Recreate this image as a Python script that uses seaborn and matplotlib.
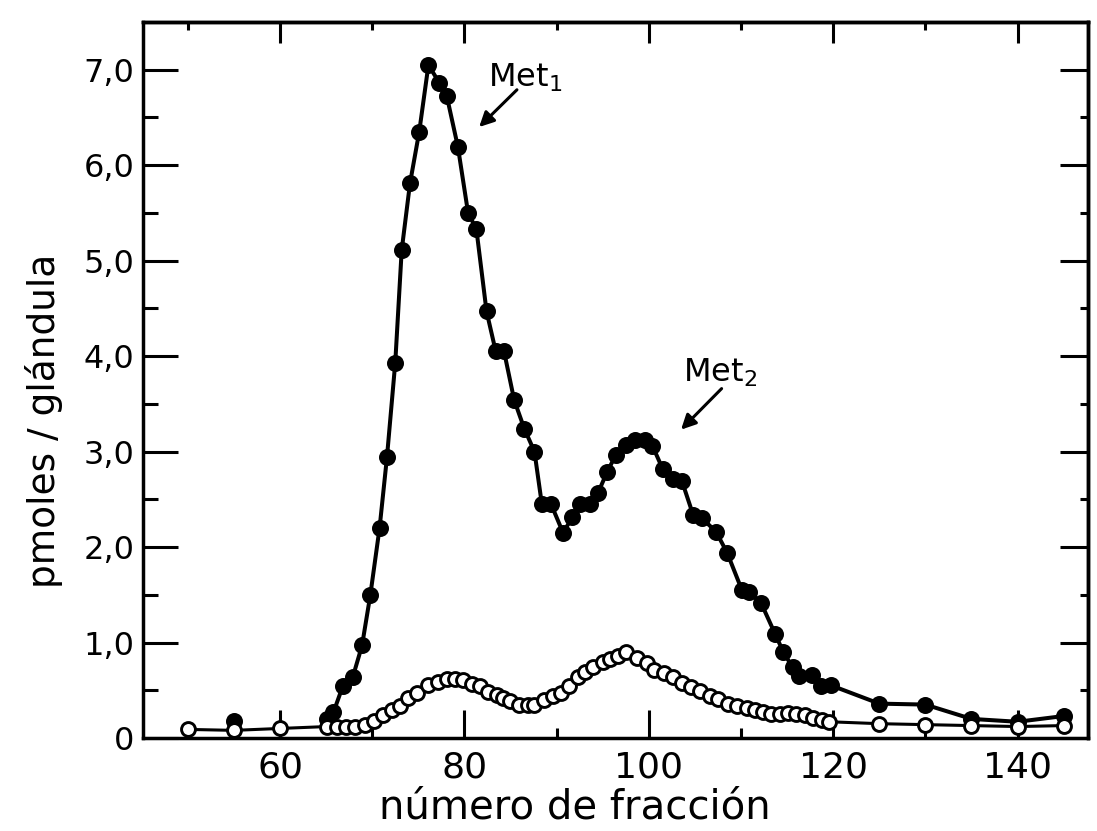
import numpy as np
import pandas as pd
import matplotlib
matplotlib.use("Agg")
import matplotlib.pyplot as plt
import seaborn as sns

# Fraction numbers and methionine content (pmoles / gland), filled series
met_x = [55, 65.1, 65.8, 66.8, 67.9, 68.9, 69.8, 70.8, 71.6, 72.5, 73.2, 74.1,
         75.1, 76.1, 77.3, 78.1, 79.3, 80.4, 81.3, 82.4, 83.4, 84.3, 85.4, 86.5,
         87.6, 88.4, 89.4, 90.7, 91.7, 92.5, 93.6, 94.5, 95.5, 96.4, 97.5, 98.5,
         99.6, 100.4, 101.5, 102.6, 103.6, 104.8, 105.8, 107.3, 108.5, 110.1,
         110.9, 112.2, 113.7, 114.6, 115.6, 116.3, 117.7, 118.7, 119.8,
         125, 130, 135, 140, 145]
met_y = [0.18, 0.20, 0.27, 0.54, 0.64, 0.97, 1.50, 2.20, 2.94, 3.93, 5.11, 5.81,
         6.35, 7.05, 6.86, 6.72, 6.19, 5.50, 5.33, 4.47, 4.05, 4.05, 3.54, 3.24,
         3.00, 2.45, 2.45, 2.15, 2.31, 2.45, 2.45, 2.57, 2.79, 2.96, 3.07, 3.12,
         3.12, 3.06, 2.82, 2.71, 2.69, 2.34, 2.30, 2.16, 1.94, 1.55,
         1.53, 1.41, 1.09, 0.90, 0.74, 0.65, 0.66, 0.54, 0.55,
         0.36, 0.35, 0.20, 0.17, 0.23]

# Open series
open_x = [50, 55, 60, 65.1, 66.2, 67.2, 68.1, 69.2, 70.2, 71.2, 72.1, 73.0, 73.9,
          74.9, 76.0, 77.1, 78.1, 79.0, 79.8, 80.8, 81.7, 82.6, 83.5, 84.2, 85.0,
          85.9, 86.9, 87.5, 88.6, 89.6, 90.5, 91.4, 92.3, 93.1, 94.0, 95.0, 95.8,
          96.7, 97.5, 98.7, 99.8, 100.6, 101.7, 102.6, 103.6, 104.6, 105.6, 106.6,
          107.5, 108.6, 109.6, 110.7, 111.5, 112.4, 113.3, 114.2, 115.1, 116.0,
          116.9, 117.8, 118.8, 119.6, 125, 130, 135, 140, 145]
open_y = [0.09, 0.08, 0.10, 0.12, 0.11, 0.12, 0.12, 0.14, 0.18, 0.24, 0.29, 0.34,
          0.42, 0.47, 0.55, 0.59, 0.62, 0.62, 0.61, 0.57, 0.54, 0.48, 0.45, 0.42,
          0.39, 0.35, 0.35, 0.35, 0.40, 0.44, 0.47, 0.54, 0.64, 0.69, 0.74, 0.80,
          0.83, 0.86, 0.90, 0.84, 0.79, 0.71, 0.68, 0.64, 0.58, 0.53, 0.49, 0.44,
          0.41, 0.36, 0.33, 0.31, 0.29, 0.27, 0.25, 0.25, 0.26, 0.25, 0.24, 0.21,
          0.19, 0.17, 0.15, 0.14, 0.13, 0.12, 0.13]

x_ticks = [60, 80, 100, 120, 140]
x_minor = [50, 70, 90, 110, 130]
y_ticks = [0, 1, 2, 3, 4, 5, 6, 7]
y_ticklabels = ["0", "1,0", "2,0", "3,0", "4,0", "5,0", "6,0", "7,0"]
y_minor = [0.5, 1.5, 2.5, 3.5, 4.5, 5.5, 6.5]

sns.set_theme(style="ticks")
plt.rcParams["font.family"] = ["DejaVu Sans"]
plt.rcParams.update({
    "axes.linewidth": 2.5,
    "text.color": "black",
    "axes.labelcolor": "black",
    "xtick.color": "black",
    "ytick.color": "black",
    "axes.edgecolor": "black",
})

met = pd.DataFrame({"fraccion": met_x, "pmoles": met_y})
opn = pd.DataFrame({"fraccion": open_x, "pmoles": open_y})

fig = plt.figure(figsize=(10.97, 8.31), dpi=100)
fig.patch.set_facecolor("white")
ax = fig.add_axes([143 / 1097, 1 - 738 / 831, (1088 - 143) / 1097, (738 - 22) / 831])
ax.set_facecolor("white")

# filled series: curve from fraction 65 on, markers everywhere
sns.lineplot(data=met.iloc[1:], x="fraccion", y="pmoles", ax=ax, color="black",
             linewidth=2.9, sort=False, estimator=None, zorder=2)
sns.scatterplot(data=met, x="fraccion", y="pmoles", ax=ax, color="black",
                s=150, edgecolor="black", linewidth=0, zorder=3)

# open series drawn on top
sns.lineplot(data=opn, x="fraccion", y="pmoles", ax=ax, color="black",
             linewidth=2.2, sort=False, estimator=None, zorder=4)
sns.scatterplot(data=opn, x="fraccion", y="pmoles", ax=ax, facecolor="white",
                edgecolor="black", s=100, linewidth=2.1, zorder=5)

ax.set_xlim(45.14, 147.64)
ax.set_ylim(0, 7.5)

ax.set_xticks(x_ticks)
ax.set_xticks(x_minor, minor=True)
ax.set_yticks(y_ticks)
ax.set_yticklabels(y_ticklabels)
ax.set_yticks(y_minor, minor=True)

ax.tick_params(axis="x", which="major", direction="in", length=20, width=2.2,
               labelsize=26, pad=9)
ax.tick_params(axis="x", which="minor", direction="in", length=7, width=2.2)
ax.tick_params(axis="y", which="major", direction="in", length=25, width=2.2,
               labelsize=23, pad=6)
ax.tick_params(axis="y", which="minor", direction="in", length=11, width=2.2)

# opposite sides carry their own shorter ticks
top = ax.secondary_xaxis("top")
top.set_xticks(x_ticks)
top.set_xticks(x_minor, minor=True)
top.set_xticklabels([])
top.tick_params(which="major", direction="in", length=15, width=2.2)
top.tick_params(which="minor", direction="in", length=6, width=2.2)
top.spines["top"].set_linewidth(2.5)

right = ax.secondary_yaxis("right")
right.set_yticks(y_ticks)
right.set_yticks(y_minor, minor=True)
right.set_yticklabels([])
right.tick_params(which="major", direction="in", length=20, width=2.2)
right.tick_params(which="minor", direction="in", length=6, width=2.2)
right.spines["right"].set_linewidth(2.5)

for s in ax.spines.values():
    s.set_linewidth(2.5)
    s.set_color("black")

ax.set_xlabel("número de fracción", fontsize=29)
ax.xaxis.set_label_coords(0.457, -0.069)
ax.set_ylabel("pmoles / glándula", fontsize=27)
ax.yaxis.set_label_coords(-0.085, 0.443)

arrow = dict(arrowstyle="-|>", color="black", lw=2.2, mutation_scale=22,
             shrinkA=0, shrinkB=0)
ax.text(82.6, 6.92, r"Met$_{1}$", fontsize=23, ha="left", va="center")
ax.annotate("", xy=(81.6, 6.40), xytext=(85.7, 6.79), arrowprops=arrow)
ax.text(103.7, 3.83, r"Met$_{2}$", fontsize=23, ha="left", va="center")
ax.annotate("", xy=(103.5, 3.23), xytext=(107.9, 3.66), arrowprops=arrow)

fig.savefig("out.png", dpi=100, facecolor="white")
